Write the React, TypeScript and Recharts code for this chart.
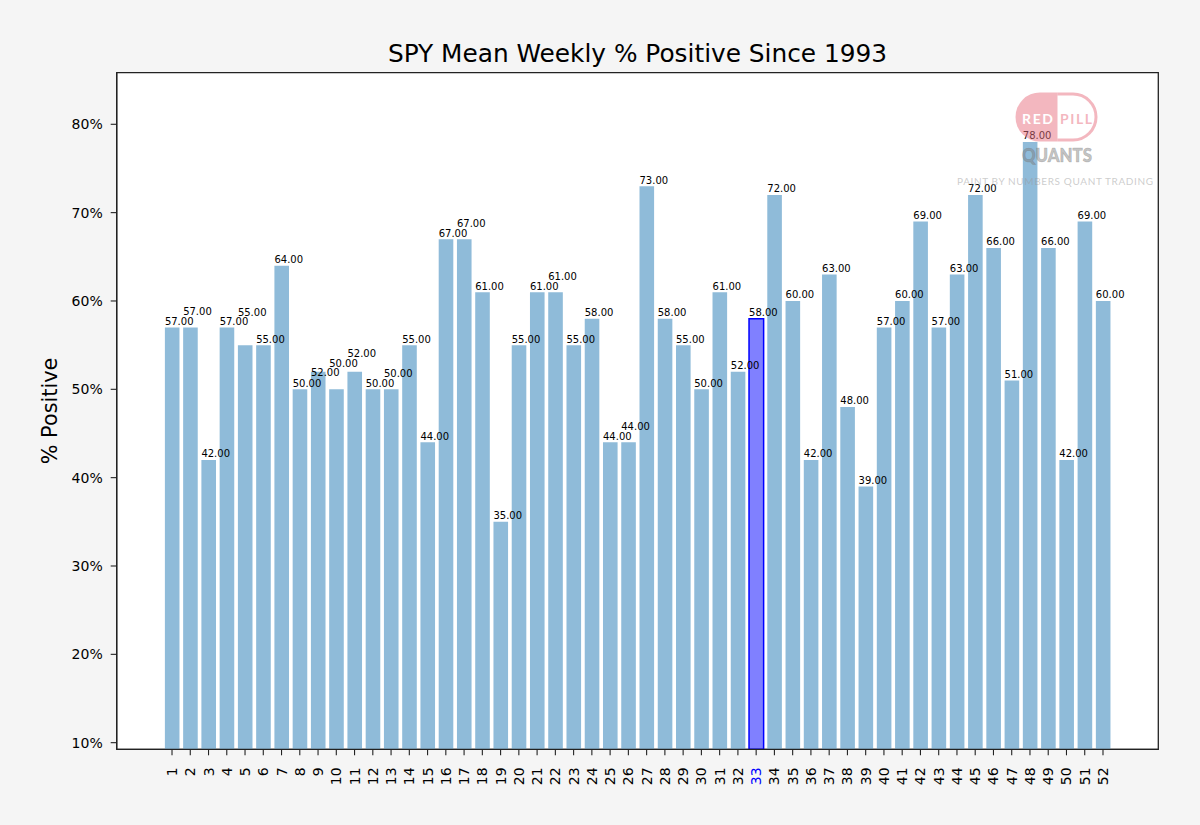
import React from "react";
import {
  BarChart,
  Bar,
  XAxis,
  YAxis,
  Cell,
  LabelList,
  CartesianGrid,
  ReferenceArea,
} from "recharts";

// ---- data ----
const weeks: number[] = [
  1, 2, 3, 4, 5, 6, 7, 8, 9, 10, 11, 12, 13, 14, 15, 16, 17, 18, 19, 20, 21,
  22, 23, 24, 25, 26, 27, 28, 29, 30, 31, 32, 33, 34, 35, 36, 37, 38, 39, 40,
  41, 42, 43, 44, 45, 46, 47, 48, 49, 50, 51, 52,
];
const pctPositive: number[] = [
  57, 57, 42, 57, 55, 55, 64, 50, 52, 50, 52, 50, 50, 55, 44, 67, 67, 61, 35,
  55, 61, 61, 55, 58, 44, 44, 73, 58, 55, 50, 61, 52, 58, 72, 60, 42, 63, 48,
  39, 57, 60, 69, 57, 63, 72, 66, 51, 78, 66, 42, 69, 60,
];
const yTicks: number[] = [10, 20, 30, 40, 50, 60, 70, 80];
const highlightWeek = 33;
const titleText = "SPY Mean Weekly % Positive Since 1993";
const yLabelText = "% Positive";

// ---- presentation ----
// vertical nudges (px) of value labels that were moved to avoid overlaps
const LABEL_LIFT: Record<number, number> = {
  2: 10,
  5: 27,
  9: -7,
  10: 20,
  11: 12.5,
  13: 10,
  17: 10,
  22: 10,
  26: 10,
};

const FONT = "'DejaVu Sans', Verdana, sans-serif";
const WM_FONT = "Lato, 'Open Sans', sans-serif";
const BAR_COLOR = "#8fbbd9";
const HILITE_FILL = "#8080ff";
const HILITE_STROKE = "#0000ff";
const AXIS_COLOR = "#222";
const PINK = "#e8707f";

const X_DOMAIN: [number, number] = [-2.03, 55.03];
const Y_DOMAIN: [number, number] = [9.25, 85.84];

const W = 1200;
const H = 825;
const PLOT_LEFT = 116.7;
const PLOT_RIGHT = 1158.3;
const PLOT_TOP = 72.7;
const PLOT_BOTTOM = 749.3;
const Y_AXIS_W = 60;
const X_AXIS_H = 30;

const data = weeks.map((w, i) => ({ week: w, pct: pctPositive[i] }));

const XTick = (props: any) => {
  const { x, y, payload } = props;
  const v = payload.value;
  return (
    <text
      x={x}
      y={y}
      transform={`rotate(-90 ${x} ${y})`}
      textAnchor="end"
      dominantBaseline="central"
      fontSize={14}
      fontFamily={FONT}
      fill={v === highlightWeek ? "#0000ff" : "#000"}
    >
      {v}
    </text>
  );
};

const ValueLabel = (props: any) => {
  const { x, y, value, index } = props;
  const lift = LABEL_LIFT[weeks[index]] ?? 0;
  return (
    <text
      x={Number(x)}
      y={Number(y) - 2.5 - lift}
      fontSize={10}
      fontFamily={FONT}
      fill="#000"
      textAnchor="start"
    >
      {Number(value).toFixed(2)}
    </text>
  );
};

const Watermark = () => (
  <g>
    <defs>
      <clipPath id="wmLeft">
        <rect x={1000} y={80} width={57.5} height={80} />
      </clipPath>
      <clipPath id="wmRight">
        <rect x={1057.5} y={80} width={60} height={80} />
      </clipPath>
    </defs>
    <rect
      x={1015.5}
      y={92.5}
      width={82}
      height={49}
      rx={24.5}
      fill={PINK}
      fillOpacity={0.5}
      clipPath="url(#wmLeft)"
    />
    <rect
      x={1017}
      y={94}
      width={79}
      height={46}
      rx={23}
      fill="none"
      stroke={PINK}
      strokeOpacity={0.5}
      strokeWidth={3}
      clipPath="url(#wmRight)"
    />
    <text
      x={1022}
      y={123.5}
      fontFamily={WM_FONT}
      fontWeight={700}
      fontSize={14}
      fill="#ffffff"
      textLength={31}
      lengthAdjust="spacing"
    >
      RED
    </text>
    <text
      x={1060}
      y={123.5}
      fontFamily={WM_FONT}
      fontWeight={700}
      fontSize={14}
      fill={PINK}
      fillOpacity={0.5}
      textLength={32}
      lengthAdjust="spacing"
    >
      PILL
    </text>
    <text
      x={1022}
      y={161.5}
      fontFamily={WM_FONT}
      fontWeight={900}
      fontSize={18}
      fill="#7a7a7a"
      fillOpacity={0.45}
      stroke="#7a7a7a"
      strokeOpacity={0.45}
      strokeWidth={0.6}
      textLength={70}
      lengthAdjust="spacingAndGlyphs"
    >
      QUANTS
    </text>
    <text
      x={957}
      y={185.3}
      fontFamily={WM_FONT}
      fontSize={10}
      fill="#9a9a9a"
      fillOpacity={0.5}
      textLength={196}
      lengthAdjust="spacing"
    >
      PAINT BY NUMBERS QUANT TRADING
    </text>
  </g>
);

export default function App() {
  return (
    <div
      style={{
        position: "absolute",
        left: 0,
        top: 0,
        width: W,
        height: H,
        background: "#f5f5f5",
        fontFamily: FONT,
      }}
    >
      <BarChart
        width={W}
        height={H}
        data={data}
        margin={{
          top: PLOT_TOP,
          right: W - PLOT_RIGHT,
          left: PLOT_LEFT - Y_AXIS_W,
          bottom: H - PLOT_BOTTOM - X_AXIS_H,
        }}
      >
        <CartesianGrid
          fill="#ffffff"
          stroke="none"
          horizontal={false}
          vertical={false}
        />
        <XAxis
          dataKey="week"
          type="number"
          domain={X_DOMAIN}
          ticks={weeks}
          interval={0}
          allowDataOverflow
          height={X_AXIS_H}
          tick={<XTick />}
          tickSize={6}
          tickMargin={12}
          tickLine={{ stroke: AXIS_COLOR, strokeWidth: 1.1 }}
          axisLine={{ stroke: AXIS_COLOR, strokeWidth: 1.3 }}
        />
        <YAxis
          type="number"
          domain={Y_DOMAIN}
          ticks={yTicks}
          allowDataOverflow
          width={Y_AXIS_W}
          tickFormatter={(v: number) => `${v}%`}
          tick={{ fontSize: 14, fill: "#000", fontFamily: FONT }}
          tickSize={6}
          tickMargin={8}
          tickLine={{ stroke: AXIS_COLOR, strokeWidth: 1.1 }}
          axisLine={{ stroke: AXIS_COLOR, strokeWidth: 1.3 }}
        />
        <Bar dataKey="pct" barSize={14.6} isAnimationActive={false}>
          {data.map((d) => (
            <Cell
              key={d.week}
              fill={d.week === highlightWeek ? HILITE_FILL : BAR_COLOR}
              stroke={d.week === highlightWeek ? HILITE_STROKE : "none"}
              strokeWidth={d.week === highlightWeek ? 1.5 : 0}
            />
          ))}
          <LabelList dataKey="pct" content={<ValueLabel />} />
        </Bar>
        <ReferenceArea
          x1={X_DOMAIN[0]}
          x2={X_DOMAIN[1]}
          y1={Y_DOMAIN[0]}
          y2={Y_DOMAIN[1]}
          fill="none"
          stroke={AXIS_COLOR}
          strokeWidth={1.3}
          ifOverflow="visible"
        />
      </BarChart>
      <svg
        width={W}
        height={H}
        style={{ position: "absolute", left: 0, top: 0, pointerEvents: "none" }}
      >
        <text
          x={(PLOT_LEFT + PLOT_RIGHT) / 2}
          y={62}
          textAnchor="middle"
          fontSize={24.8}
          fontFamily={FONT}
          fill="#000"
        >
          {titleText}
        </text>
        <text
          x={50}
          y={(PLOT_TOP + PLOT_BOTTOM) / 2}
          transform={`rotate(-90 50 ${(PLOT_TOP + PLOT_BOTTOM) / 2})`}
          textAnchor="middle"
          dominantBaseline="central"
          fontSize={20.8}
          fontFamily={FONT}
          fill="#000"
        >
          {yLabelText}
        </text>
        <Watermark />
      </svg>
    </div>
  );
}
